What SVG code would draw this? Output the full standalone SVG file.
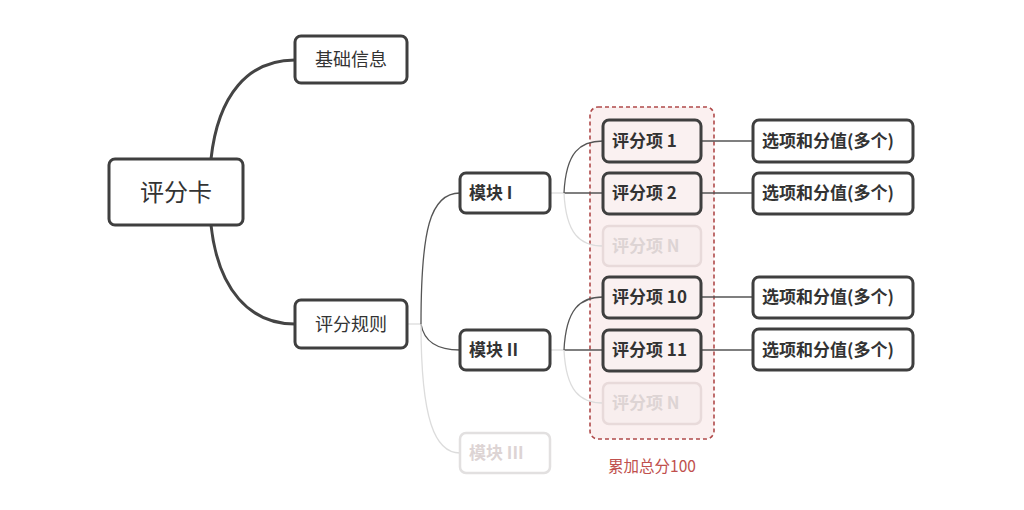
<svg xmlns="http://www.w3.org/2000/svg" width="1024" height="510" viewBox="0 0 1024 510">
<style>
text{font-family:"Noto Sans CJK SC","Noto Sans",sans-serif;dominant-baseline:central;fill:#333}
.box{fill:#fff;stroke:#3f3f3f;stroke-width:3}
.pbox{fill:#faf1f1;stroke:#3f3f3f;stroke-width:3}
.fbox{fill:#fff;stroke:#e2e0e0;stroke-width:2.5}
.fpbox{fill:#f8eeee;stroke:#e8dada;stroke-width:2.5}
.ft{fill:#ddd4d4}
.b{font-weight:bold;font-size:17px}
.thick{fill:none;stroke:#444;stroke-width:3}
.thin{fill:none;stroke:#555;stroke-width:1.3}
.light{fill:none;stroke:#dcdcdc;stroke-width:1.3}
</style>
<rect width="1024" height="510" fill="#fff"/>
<g id="group-total">
<rect x="590" y="107" width="124" height="332" rx="8" fill="#fbf0f0" stroke="#b04a4a" stroke-width="1.6" stroke-dasharray="4 3"/>
<text x="652" y="465" text-anchor="middle" font-size="15.5" style="fill:#c0504d">累加总分100</text>
</g>
<g id="connectors">
<path class="thick" d="M211 159 C 218 95 248 60 295 60"/>
<path class="thick" d="M211 225 C 218 290 250 324 295 324"/>
<path class="light" d="M407 324 L421 324"/>
<path class="thin" d="M421 324 C 421 230 430 193 460 193"/>
<path class="thin" d="M421 324 C 424 342 438 350 460 350"/>
<path class="light" d="M421 324 C 421 420 435 453 460 453"/>
<path class="light" d="M551 193 L564 193"/>
<path class="thin" d="M564 193 C 566 152 580 141 603 141"/>
<path class="thin" d="M564 193 L603 193"/>
<path class="light" d="M564 193 C 566 234 580 246 603 246"/>
<path class="light" d="M551 350 L564 350"/>
<path class="thin" d="M564 350 C 566 309 580 297 603 297"/>
<path class="thin" d="M564 350 L603 350"/>
<path class="light" d="M564 350 C 566 391 580 403 603 403"/>
<path class="thin" d="M701 141 L753 141"/>
<path class="thin" d="M701 193 L753 193"/>
<path class="thin" d="M701 297 L753 297"/>
<path class="thin" d="M701 350 L753 350"/>
</g>
<g id="root"><rect class="box" x="109" y="159" width="134" height="66" rx="6"/><text x="176" y="190" text-anchor="middle" font-size="24">评分卡</text></g>
<g id="basic"><rect class="box" x="295" y="36" width="112" height="47" rx="6"/><text x="351" y="58" text-anchor="middle" font-size="18">基础信息</text></g>
<g id="rules"><rect class="box" x="295" y="300" width="112" height="48" rx="6"/><text x="351" y="322.5" text-anchor="middle" font-size="18">评分规则</text></g>
<g id="m1"><rect class="box" x="460" y="173" width="90" height="40" rx="6"/><text class="b" x="469" y="191.5">模块 I</text></g>
<g id="m2"><rect class="box" x="460" y="330" width="90" height="40" rx="6"/><text class="b" x="469" y="348.5">模块 II</text></g>
<g id="m3"><rect class="fbox" x="460" y="433" width="90" height="40" rx="6"/><text class="b ft" x="469" y="451.5">模块 III</text></g>
<g id="s1"><rect class="pbox" x="603" y="120" width="98" height="42" rx="6"/><text class="b" x="612" y="139.5">评分项 1</text></g>
<g id="s2"><rect class="pbox" x="603" y="173" width="98" height="41" rx="6"/><text class="b" x="612" y="191.5">评分项 2</text></g>
<g id="sn1"><rect class="fpbox" x="603" y="226" width="98" height="40" rx="6"/><text class="b ft" x="612" y="244.5">评分项 N</text></g>
<g id="s10"><rect class="pbox" x="603" y="277" width="98" height="41" rx="6"/><text class="b" x="612" y="295.5">评分项 10</text></g>
<g id="s11"><rect class="pbox" x="603" y="330" width="98" height="41" rx="6"/><text class="b" x="612" y="348.5">评分项 11</text></g>
<g id="sn2"><rect class="fpbox" x="603" y="383" width="98" height="41" rx="6"/><text class="b ft" x="612" y="401.5">评分项 N</text></g>
<g id="c1"><rect class="box" x="753" y="120" width="160" height="42" rx="6"/><text class="b" x="762" y="139.5">选项和分值(多个)</text></g>
<g id="c2"><rect class="box" x="753" y="173" width="160" height="41" rx="6"/><text class="b" x="762" y="191.5">选项和分值(多个)</text></g>
<g id="c3"><rect class="box" x="753" y="277" width="160" height="41" rx="6"/><text class="b" x="762" y="295.5">选项和分值(多个)</text></g>
<g id="c4"><rect class="box" x="753" y="329" width="160" height="41" rx="6"/><text class="b" x="762" y="348.5">选项和分值(多个)</text></g>
</svg>
